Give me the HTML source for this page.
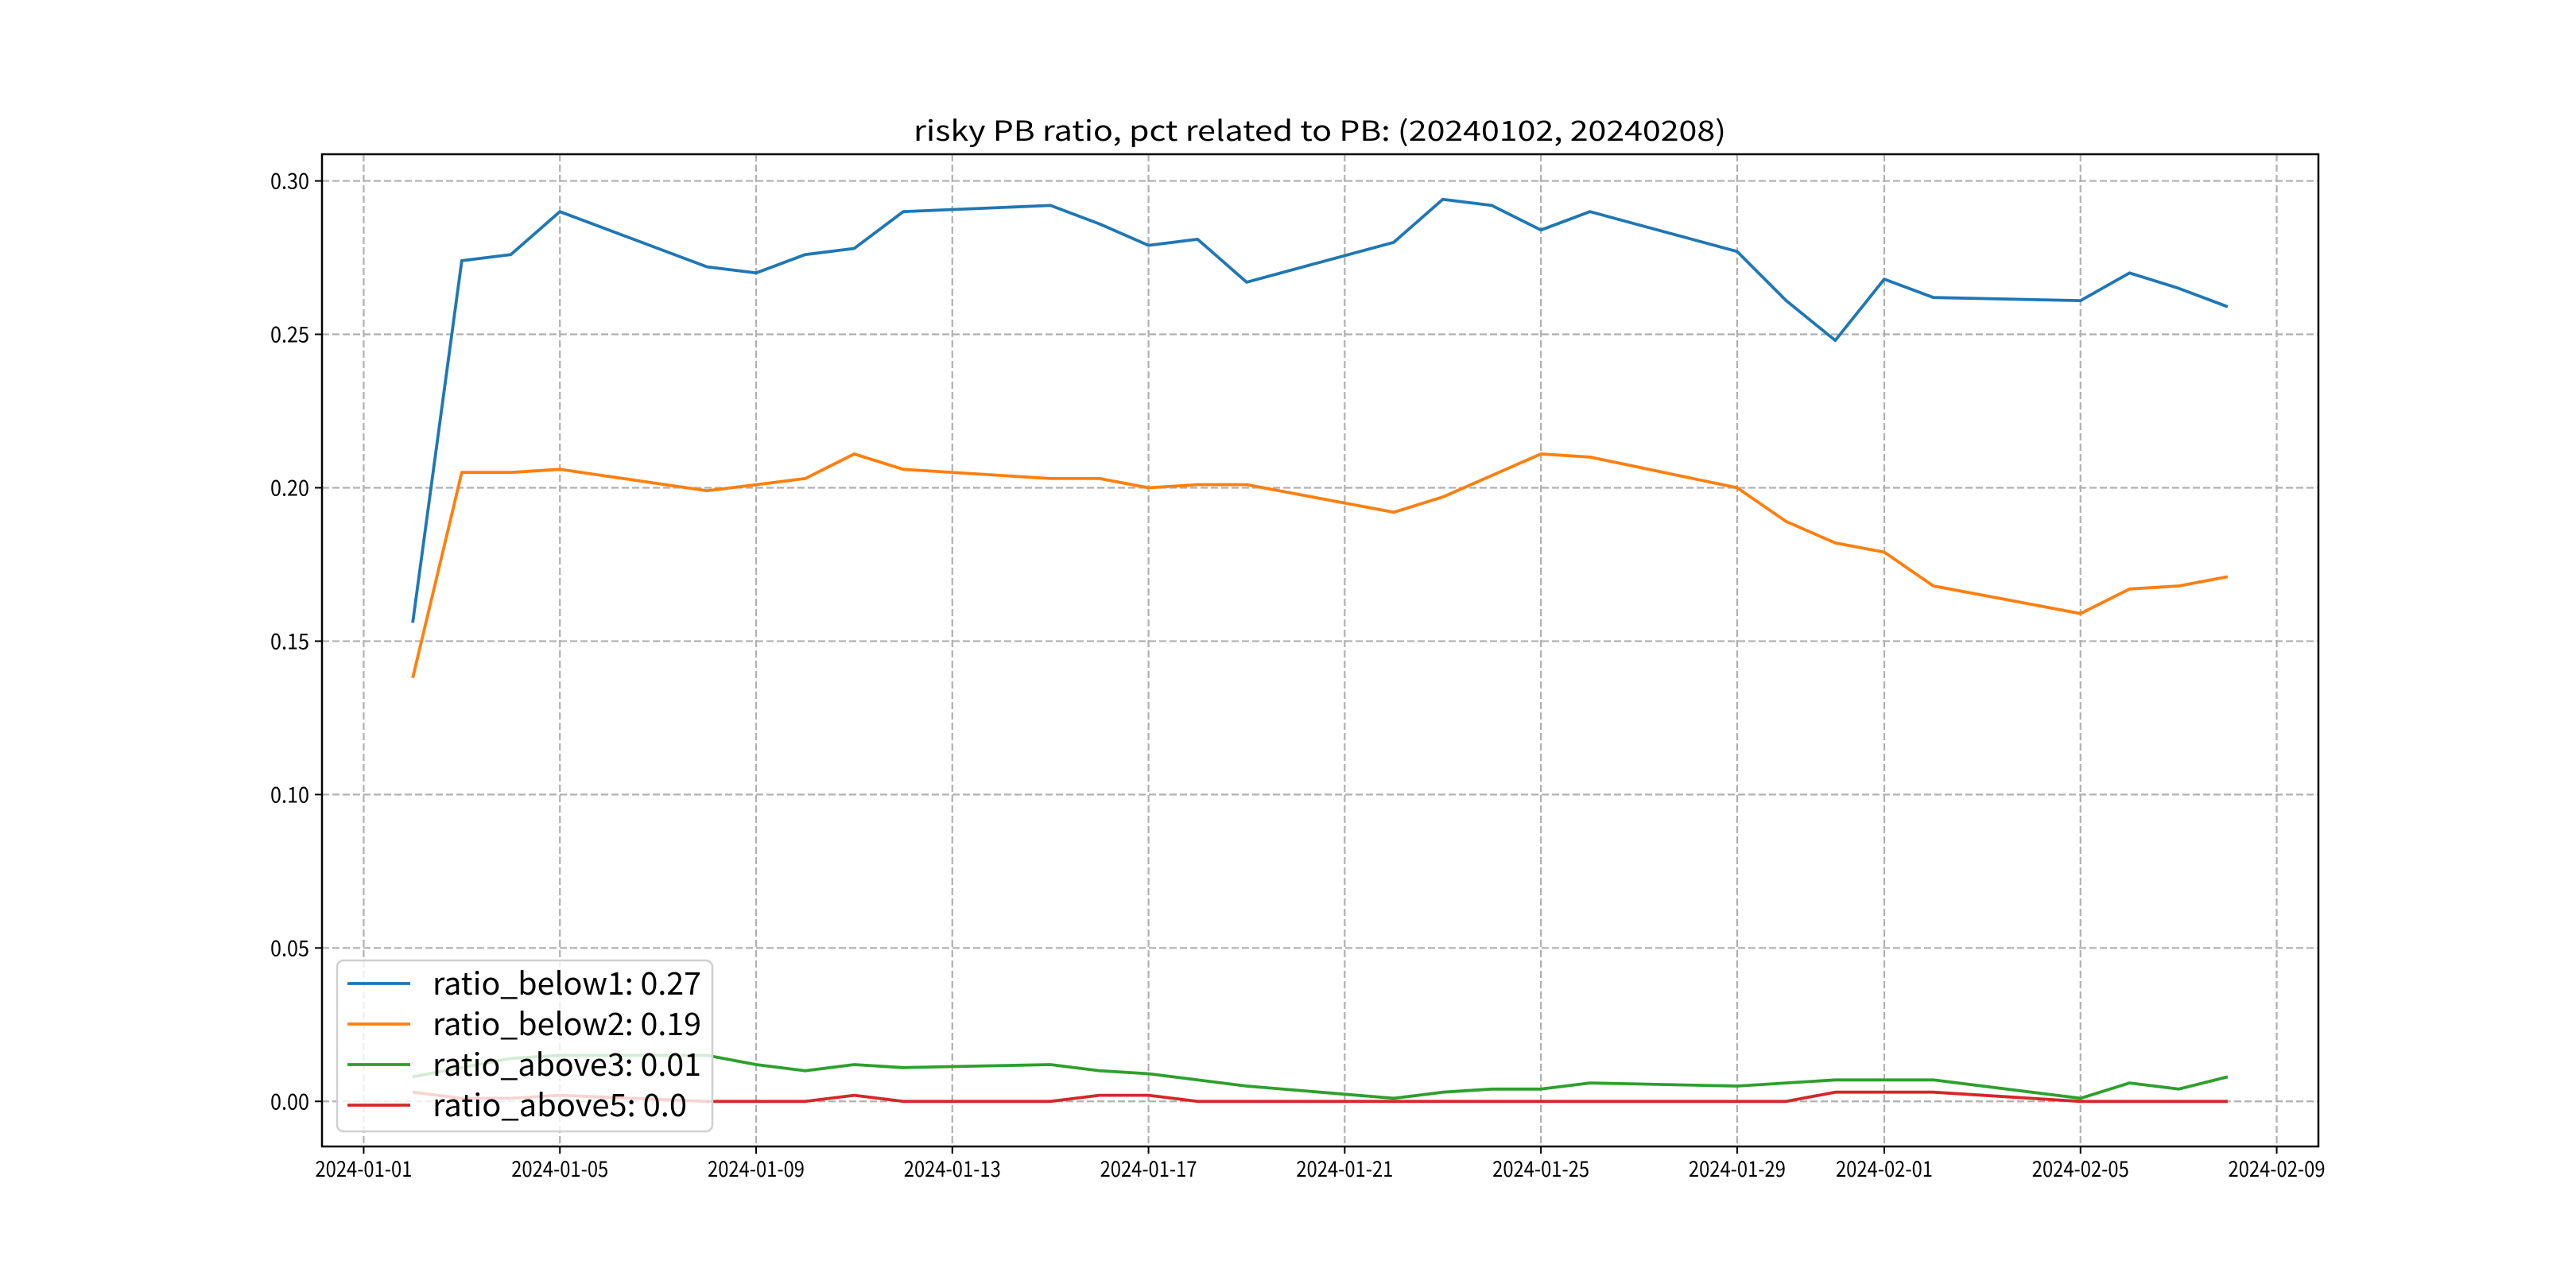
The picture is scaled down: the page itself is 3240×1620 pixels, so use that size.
<!DOCTYPE html>
<html><head><meta charset="utf-8"><style>
html,body{margin:0;padding:0;background:#fff}
svg{display:block}
text{font-family:"WenQuanYi Zen Hei","Noto Sans CJK SC","Liberation Sans",sans-serif;fill:#000}
</style></head><body>
<svg id="chart" width="3240" height="1620" viewBox="0 0 3240 1620" xmlns="http://www.w3.org/2000/svg">
<rect width="3240" height="1620" fill="#fff"/>
<text x="1660" y="177" font-size="35" text-anchor="middle" textLength="1022" lengthAdjust="spacingAndGlyphs">risky PB ratio, pct related to PB: (20240102, 20240208)</text>
<g id="grid"></g><g id="series"></g><g id="axes"></g><g id="legend"></g>
</svg>
<script>
const dates = ["2024-01-02","2024-01-03","2024-01-04","2024-01-05","2024-01-08","2024-01-09","2024-01-10","2024-01-11","2024-01-12","2024-01-15","2024-01-16","2024-01-17","2024-01-18","2024-01-19","2024-01-22","2024-01-23","2024-01-24","2024-01-25","2024-01-26","2024-01-29","2024-01-30","2024-01-31","2024-02-01","2024-02-02","2024-02-05","2024-02-06","2024-02-07","2024-02-08"];
const ratioBelow1 = [0.156,0.274,0.276,0.290,0.272,0.270,0.276,0.278,0.290,0.292,0.286,0.279,0.281,0.267,0.280,0.294,0.292,0.284,0.290,0.277,0.261,0.248,0.268,0.262,0.261,0.270,0.265,0.259];
const ratioBelow2 = [0.138,0.205,0.205,0.206,0.199,0.201,0.203,0.211,0.206,0.203,0.203,0.200,0.201,0.201,0.192,0.197,0.204,0.211,0.210,0.200,0.189,0.182,0.179,0.168,0.159,0.167,0.168,0.171];
const ratioAbove3 = [0.008,0.011,0.014,0.015,0.015,0.012,0.010,0.012,0.011,0.012,0.010,0.009,0.007,0.005,0.001,0.003,0.004,0.004,0.006,0.005,0.006,0.007,0.007,0.007,0.001,0.006,0.004,0.008];
const ratioAbove5 = [0.003,0.001,0.001,0.002,0.000,0.000,0.000,0.002,0.000,0.000,0.002,0.002,0.000,0.000,0.000,0.000,0.000,0.000,0.000,0.000,0.000,0.003,0.003,0.003,0.000,0.000,0.000,0.000];
const xTickLabels = ["2024-01-01","2024-01-05","2024-01-09","2024-01-13","2024-01-17","2024-01-21","2024-01-25","2024-01-29","2024-02-01","2024-02-05","2024-02-09"];
const yTickValues = [0.00,0.05,0.10,0.15,0.20,0.25,0.30];
const legendLabels = ["ratio_below1: 0.27","ratio_below2: 0.19","ratio_above3: 0.01","ratio_above5: 0.0"];

const NS="http://www.w3.org/2000/svg";
const L=405,R=2916,T=194,B=1442;
const base=Date.UTC(2024,0,1);
function dayOf(s){const p=s.split('-');return (Date.UTC(+p[0],+p[1]-1,+p[2])-base)/86400000;}
const d0=dayOf(dates[0]),d1=dayOf(dates[dates.length-1]);
const allV=[].concat(ratioBelow1,ratioBelow2,ratioAbove3,ratioAbove5);
const vmin=Math.min(...allV),vmax=Math.max(...allV);
const xmin=d0-(d1-d0)*0.05,xmax=d1+(d1-d0)*0.05;
const ymin=vmin-(vmax-vmin)*0.05,ymax=vmax+(vmax-vmin)*0.05;
function xs(d){return L+(d-xmin)/(xmax-xmin)*(R-L);}
function ys(v){return B-(v-ymin)/(ymax-ymin)*(B-T);}
function mk(tag,attrs,parent){const e=document.createElementNS(NS,tag);for(const k in attrs)e.setAttribute(k,attrs[k]);parent.appendChild(e);return e;}
const grid=document.getElementById('grid'),axes=document.getElementById('axes'),ser=document.getElementById('series'),leg=document.getElementById('legend');
xTickLabels.forEach(lbl=>{
  const x=xs(dayOf(lbl));
  const g=mk('line',{x1:x,x2:x,y1:T,y2:B,stroke:'#b0b0b0','stroke-width':2.2,'stroke-dasharray':'9,4'},grid);
  
  
  const t=mk('line',{x1:x,x2:x,y1:B,y2:B+9,stroke:'#000','stroke-width':2},axes);
  
  
  const tx=mk('text',{x:x,y:B+38,'font-size':27,'text-anchor':'middle',textLength:122,lengthAdjust:'spacingAndGlyphs'},axes);
  tx.textContent=lbl;
  
  
});
yTickValues.forEach(v=>{
  const y=ys(v);
  const g=mk('line',{x1:L,x2:R,y1:y,y2:y,stroke:'#b0b0b0','stroke-width':2.2,'stroke-dasharray':'9,4'},grid);
  
  
  const t=mk('line',{x1:L-9,x2:L,y1:y,y2:y,stroke:'#000','stroke-width':2},axes);
  
  
  const tx=mk('text',{x:L-16,y:y+10,'font-size':27,'text-anchor':'end',textLength:49,lengthAdjust:'spacingAndGlyphs'},axes);
  tx.textContent=v.toFixed(2);
  
  
});
const frame=mk('rect',{x:L,y:T,width:R-L,height:B-T,fill:'none',stroke:'#000','stroke-width':2.5},axes);


const series=[ratioBelow1,ratioBelow2,ratioAbove3,ratioAbove5];
const colors=['#1f77b4','#ff7f0e','#2ca02c','#d62728'];
const names=['series-ratio-below1','series-ratio-below2','series-ratio-above3','series-ratio-above5'];
series.forEach((arr,i)=>{
  const pts=arr.map((v,j)=>xs(dayOf(dates[j])).toFixed(1)+','+ys(v).toFixed(1)).join(' ');
  const p=mk('polyline',{points:pts,fill:'none',stroke:colors[i],'stroke-width':3.8,'stroke-linejoin':'round'},ser);
  
  
});
const box=mk('rect',{x:424,y:1208,width:472,height:215,rx:8,fill:'#fff','fill-opacity':0.8,stroke:'#d0d0d0','stroke-width':2.5},leg);


legendLabels.forEach((lbl,i)=>{
  const y=1237+i*51;
  const l=mk('line',{x1:437,x2:516,y1:y,y2:y,stroke:colors[i],'stroke-width':3.8},leg);
  
  
  const t=mk('text',{x:544,y:y+14,'font-size':39,textLength:Math.round(lbl.length*18.8),lengthAdjust:'spacingAndGlyphs'},leg);
  t.textContent=lbl;
  
  
});
</script>
</body></html>
